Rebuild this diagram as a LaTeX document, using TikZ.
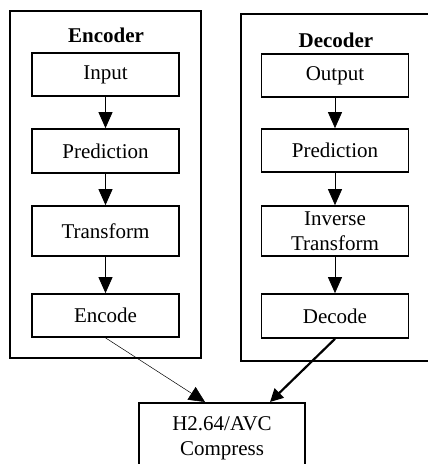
\documentclass[tikz,border=0pt]{standalone}
\usepackage{fontspec}
\setmainfont{Liberation Serif}
\usetikzlibrary{arrows.meta}
\tikzset{
  box/.style={draw, line width=1.7pt, inner sep=0pt, minimum width=147pt, align=center, font=\fontsize{21}{25}\selectfont},
  outer/.style={draw, line width=1.7pt, inner sep=0pt, minimum width=191pt, minimum height=347pt},
  title/.style={font=\fontsize{21}{25}\selectfont\bfseries, inner sep=0pt},
  flow/.style={line width=0.8pt, -{Triangle[length=16pt,width=14pt]}},
}
\begin{document}
\begin{tikzpicture}[x=1pt,y=-1pt]
\clip (0,0) rectangle (428,464);
\fill[white] (0,0) rectangle (428,464);
% encoder
\node[outer] (enc) at (105.5,184.5) {};
\node[title] (enct) at (106,35) {Encoder};
\node[box, minimum height=43pt] (in) at (105.5,74.5) {Input};
\node[box, minimum height=44pt] (epred) at (105.5,151) {Prediction};
\node[box, minimum height=50pt] (trans) at (105.5,231) {Transform};
\node[box, minimum height=43pt] (encode) at (105.5,315.5) {Encode};
\draw[flow] (in) -- (epred);
\draw[flow] (epred) -- (trans);
\draw[flow] (trans) -- (encode);
% decoder
\node[outer] (dec) at (336.5,187.5) {};
\node[title] (dect) at (336,40) {Decoder};
\node[box, minimum height=43pt] (out) at (335,75.5) {Output};
\node[box, minimum height=43pt] (dpred) at (335,150.5) {Prediction};
\node[box, minimum height=50pt] (itrans) at (335,231) {Inverse\\Transform};
\node[box, minimum height=44pt] (decode) at (335,316) {Decode};
\draw[flow] (out) -- (dpred);
\draw[flow] (dpred) -- (itrans);
\draw[flow] (itrans) -- (decode);
% compress
\node[box, minimum width=166pt, minimum height=80pt, anchor=north] (comp) at (222,402) {};
\node[font=\fontsize{21}{25}\selectfont, align=center, inner sep=0pt] (compt) at (222,438) {H2.64/AVC\\Compress};
\coordinate (ca) at (205,402);
\coordinate (cb) at (270,402);
\draw[line width=0.5pt, -{Triangle[length=16pt,width=15pt]}] (encode.south) -- (ca);
\draw[line width=2.2pt, -{Triangle[length=13pt,width=13pt]}] (decode.south) -- (cb);
\end{tikzpicture}
\end{document}
